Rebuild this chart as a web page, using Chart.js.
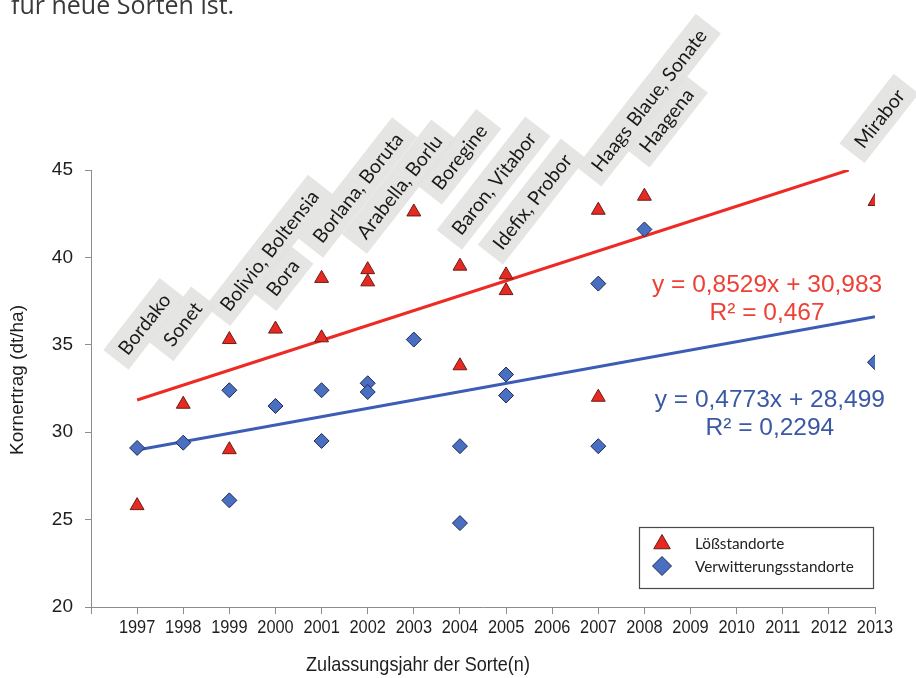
<!DOCTYPE html>
<html>
<head>
<meta charset="utf-8">
<script src="https://cdn.jsdelivr.net/npm/chart.js@4.4.1/dist/chart.umd.min.js"></script>
<style>
  html, body { margin: 0; padding: 0; background: #ffffff; }
  #wrap { position: relative; width: 916px; height: 678px; }
</style>
</head>
<body>
<div id="wrap"><canvas id="c" width="916" height="678"></canvas></div>
<script>
// ---------- data ----------
const tickYears = [1997,1998,1999,2000,2001,2002,2003,2004,2005,2006,2007,2008,2009,2010,2011,2012,2013];
const yTicks = [20,25,30,35,40,45];

const loessX = [1997,1998,1999,1999,2000,2001,2001,2002,2002,2003,2004,2004,2005,2005,2007,2007,2008,2013];
const loessY = [25.8,31.6,35.3,29.0,35.9,38.8,35.4,39.3,38.6,42.6,39.5,33.8,39.0,38.1,42.7,32.0,43.5,43.2];

const verwX = [1997,1998,1999,1999,2000,2001,2001,2002,2002,2003,2004,2004,2005,2005,2007,2007,2008,2013];
const verwY = [29.1,29.4,32.4,26.1,31.5,32.4,29.5,32.8,32.3,35.3,29.2,24.8,33.3,32.1,38.5,29.2,41.6,34.0];

const loessTrendX = [1997, 2012.43];
const loessTrendY = [31.84, 45.0];
const verwTrendX = [1997, 2013];
const verwTrendY = [28.98, 36.61];

// variety labels
const varietyNames = ["Bordako","Sonet","Bolivio, Boltensia","Bora","Borlana, Boruta","Arabella, Borlu","Boregine","Baron, Vitabor","Idefix, Probor","Haags Blaue, Sonate","Haagena","Mirabor"];
const varietyLabelX = [1997.15,1997.98,1999.86,2000.15,2001.78,2002.68,2003.98,2004.73,2005.56,2008.09,2008.47,2013.09];
const varietyLabelY = [36.2,36.2,40.4,38.85,44.0,44.05,45.75,44.25,43.2,49.0,47.85,47.95];

const legendNames = ["Lößstandorte","Verwitterungsstandorte"];
const equationTexts = ["y = 0,8529x + 30,983","R² = 0,467","y = 0,4773x + 28,499","R² = 0,2294"];
const equationX = [2010.66,2010.66,2010.72,2010.72];
const equationY = [38.38,36.78,31.85,30.25];

const xTitle = 'Zulassungsjahr der Sorte(n)';
const yTitle = 'Kornertrag (dt/ha)';

// ---------- styles ----------
const RED = '#e62a21', RED_EDGE = '#6a1c14', RED_LINE = '#ee2a24', RED_TEXT = '#ee4136';
const BLUE = '#4a6fc1', BLUE_EDGE = '#1c2a55', BLUE_LINE = '#3c5cb6', BLUE_TEXT = '#3a58a4';
const AXIS_GRAY = '#8c8c8c';
const TEXT = '#1e1e1e';

const toPts = (xs, ys) => xs.map((x, i) => ({x: x, y: ys[i]}));

function condensedText(ctx, text, x, y, font, sx, align) {
  ctx.save();
  ctx.translate(x, y);
  ctx.scale(sx, 1);
  ctx.font = font;
  ctx.textAlign = align;
  ctx.textBaseline = 'middle';
  ctx.fillText(text, 0, 0);
  ctx.restore();
}

const annotations = {
  id: 'annotations',
  afterDraw(chart) {
    const ctx = chart.ctx;
    const xs = chart.scales.x, ys = chart.scales.y;
    const ca = chart.chartArea;

    // top (cut) text line
    ctx.save();
    ctx.font = '25px "Open Sans"';
    ctx.fillStyle = '#3a3a3a';
    ctx.textBaseline = 'alphabetic';
    ctx.textAlign = 'left';
    ctx.fillText('für neue Sorten ist.', 11, 14);
    ctx.restore();

    // axis tick labels and titles
    ctx.fillStyle = TEXT;
    tickYears.forEach(v => {
      condensedText(ctx, String(v), xs.getPixelForValue(v), ca.bottom + 21, '19px "Liberation Sans", Arial', 0.86, 'center');
    });
    condensedText(ctx, xTitle, 418, 665, '21px "Liberation Sans", Arial', 0.86, 'center');
    ctx.save();
    ctx.translate(18, 380);
    ctx.rotate(-Math.PI / 2);
    ctx.font = '19px "Liberation Sans", Arial';
    ctx.textAlign = 'center';
    ctx.textBaseline = 'middle';
    ctx.fillStyle = TEXT;
    ctx.fillText(yTitle, 0, 0);
    ctx.restore();

    // variety labels in rotated grey boxes
    const ang = -52 * Math.PI / 180;
    varietyNames.forEach((name, i) => {
      const cx = xs.getPixelForValue(varietyLabelX[i]);
      const cy = ys.getPixelForValue(varietyLabelY[i]);
      ctx.save();
      ctx.translate(cx, cy);
      ctx.rotate(ang);
      ctx.font = '19.5px Lato';
      const w = ctx.measureText(name).width;
      const bw = w + 20, bh = 32;
      ctx.fillStyle = 'rgba(228,228,225,0.95)';
      ctx.fillRect(-bw / 2, -bh / 2, bw, bh);
      ctx.fillStyle = '#1a1a1a';
      ctx.textAlign = 'center';
      ctx.textBaseline = 'middle';
      ctx.fillText(name, 0, 1);
      ctx.restore();
    });

    // equations
    ctx.save();
    ctx.font = '24.5px "Liberation Sans", Arial';
    ctx.textAlign = 'center';
    ctx.textBaseline = 'middle';
    equationTexts.forEach((t, i) => {
      ctx.fillStyle = i < 2 ? RED_TEXT : BLUE_TEXT;
      ctx.fillText(t, xs.getPixelForValue(equationX[i]), ys.getPixelForValue(equationY[i]));
    });
    ctx.restore();

    // legend box
    const lw = 234, lh = 61;
    const lx = ca.right - lw - 2, ly = ca.bottom - lh - 19;
    ctx.save();
    ctx.fillStyle = '#ffffff';
    ctx.fillRect(lx, ly, lw, lh);
    ctx.strokeStyle = '#4a4a4a';
    ctx.lineWidth = 1.2;
    ctx.strokeRect(lx + 0.5, ly + 0.5, lw, lh);
    const items = [
      {style: 'triangle', r: 9.5, fill: RED, edge: RED_EDGE},
      {style: 'rectRot', r: 9.5, fill: BLUE, edge: BLUE_EDGE}
    ];
    items.forEach((it, i) => {
      const py = ly + 16 + i * 23;
      ctx.fillStyle = it.fill;
      ctx.strokeStyle = it.edge;
      ctx.lineWidth = 1;
      Chart.helpers.drawPoint(ctx, {pointStyle: it.style, radius: it.r, borderWidth: 1, rotation: 0}, lx + 23, py + (i === 0 ? 1 : 0));
      ctx.fillStyle = '#222';
      ctx.font = '15.3px Lato';
      ctx.textAlign = 'left';
      ctx.textBaseline = 'middle';
      ctx.fillText(legendNames[i], lx + 56, py + 1);
    });
    ctx.restore();
  }
};

new Chart(document.getElementById('c'), {
  type: 'scatter',
  data: {
    datasets: [
      {
        label: legendNames[0],
        data: toPts(loessX, loessY),
        pointStyle: 'triangle',
        pointRadius: 8,
        pointBackgroundColor: RED,
        pointBorderColor: RED_EDGE,
        pointBorderWidth: 1,
        order: 0
      },
      {
        label: legendNames[1],
        data: toPts(verwX, verwY),
        pointStyle: 'rectRot',
        pointRadius: 7.5,
        pointBackgroundColor: BLUE,
        pointBorderColor: BLUE_EDGE,
        pointBorderWidth: 1,
        order: 0
      },
      {
        type: 'line',
        label: 'Trend Löß',
        data: toPts(loessTrendX, loessTrendY),
        borderColor: RED_LINE,
        borderWidth: 3,
        pointRadius: 0,
        fill: false,
        order: 1
      },
      {
        type: 'line',
        label: 'Trend Verwitterung',
        data: toPts(verwTrendX, verwTrendY),
        borderColor: BLUE_LINE,
        borderWidth: 3,
        pointRadius: 0,
        fill: false,
        order: 1
      }
    ]
  },
  options: {
    responsive: false,
    animation: false,
    events: [],
    layout: { padding: { top: 170, right: 41, left: 0, bottom: 0 } },
    plugins: { legend: { display: false }, tooltip: { enabled: false } },
    scales: {
      x: {
        type: 'linear',
        min: 1996,
        max: 2013,
        afterBuildTicks(scale) {
          scale.ticks = [1996].concat(tickYears).map(v => ({value: v}));
        },
        afterFit(scale) { scale.height = 71; },
        ticks: { display: false, autoSkip: false },
        grid: { drawOnChartArea: false, drawTicks: true, tickLength: 7, color: AXIS_GRAY },
        border: { color: AXIS_GRAY, width: 1 }
      },
      y: {
        min: 20,
        max: 45,
        afterBuildTicks(scale) {
          scale.ticks = yTicks.map(v => ({value: v}));
        },
        afterFit(scale) { scale.width = 91; },
        ticks: {
          padding: 12,
          color: TEXT,
          font: { family: '"Liberation Sans", Arial', size: 19 }
        },
        grid: { drawOnChartArea: false, drawTicks: true, tickLength: 6, color: AXIS_GRAY },
        border: { color: AXIS_GRAY, width: 1 }
      }
    }
  },
  plugins: [annotations]
});
</script>
</body>
</html>
